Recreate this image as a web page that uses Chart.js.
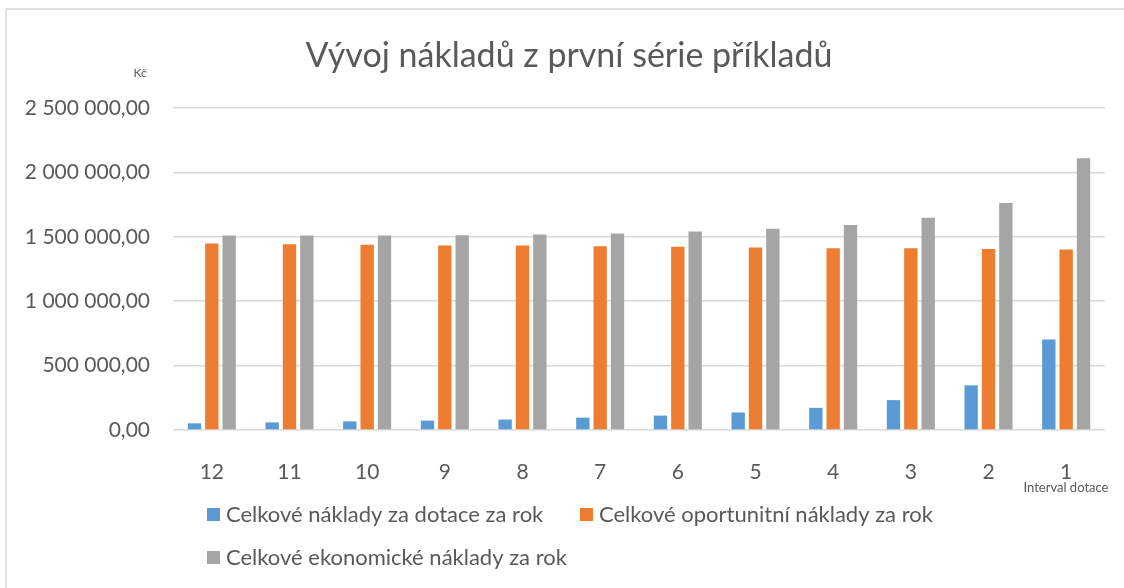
<!DOCTYPE html>
<html lang="cs">
<head>
<meta charset="utf-8">
<title>Vývoj nákladů z první série příkladů</title>
<script src="https://cdn.jsdelivr.net/npm/chart.js@4/dist/chart.umd.min.js"></script>
<style>
  html, body { margin: 0; padding: 0; background: #fff; }
  #wrap { width: 1124px; height: 588px; position: relative; }
</style>
</head>
<body>
<div id="wrap"><canvas id="chart" width="1124" height="588"></canvas></div>
<script>
// Data
const intervals = ['12', '11', '10', '9', '8', '7', '6', '5', '4', '3', '2', '1'];
const dotaceCosts = [52000, 59000, 67000, 73000, 81000, 96000, 112000, 136000, 172000, 232000, 347000, 703000];
const oportunitniCosts = [1448000, 1443000, 1438000, 1433000, 1432000, 1427000, 1422000, 1417000, 1412000, 1411000, 1406000, 1401000];
const ekonomickeCosts = [1510000, 1510000, 1510000, 1513000, 1518000, 1526000, 1541000, 1562000, 1591000, 1648000, 1763000, 2110000];
const seriesNames = [
    'Celkové náklady za dotace za rok',
    'Celkové oportunitní náklady za rok',
    'Celkové ekonomické náklady za rok'
];
const seriesColors = ['#5B9BD5', '#ED7D31', '#A5A5A5'];

const FONT = 'Lato, "Open Sans", sans-serif';
const TEXT = '#595959';

// 2 500 000,00
function formatKc(v) {
    const s = Math.round(v).toString().replace(/\B(?=(\d{3})+(?!\d))/g, ' ');
    return s + ',00';
}

// Titulek, popisky os, rámeček a legenda
const extrasPlugin = {
    id: 'extras',
    beforeDraw(chart) {
        const c = chart.ctx;
        c.save();
        c.strokeStyle = '#D9D9D9';
        c.lineWidth = 1.5;
        c.beginPath();
        c.moveTo(6, 588);
        c.lineTo(6, 9);
        c.lineTo(1124, 9);
        c.stroke();
        c.restore();
    },
    afterDraw(chart) {
        const c = chart.ctx;
        c.save();
        c.fillStyle = TEXT;
        c.textBaseline = 'middle';

        c.textAlign = 'center';
        c.font = '34px ' + FONT;
        c.fillText('Vývoj nákladů z první série příkladů', 569, 56);

        c.font = '12px ' + FONT;
        c.fillText('Kč', 140, 73);
        c.font = '13px ' + FONT;
        c.fillText('Interval dotace', 1066, 488);

        // legenda
        const items = [
            { x: 207, y: 515 },
            { x: 580, y: 515 },
            { x: 207, y: 558 }
        ];
        c.textAlign = 'left';
        c.font = '22px ' + FONT;
        chart.data.datasets.forEach((ds, i) => {
            const p = items[i];
            c.fillStyle = ds.backgroundColor;
            c.fillRect(p.x, p.y - 7, 13, 13);
            c.fillStyle = TEXT;
            c.fillText(ds.label, p.x + 19, p.y);
        });
        c.restore();
    }
};

const ctx = document.getElementById('chart').getContext('2d');
new Chart(ctx, {
    type: 'bar',
    data: {
        labels: intervals,
        datasets: [
            { label: seriesNames[0], data: dotaceCosts, backgroundColor: seriesColors[0] },
            { label: seriesNames[1], data: oportunitniCosts, backgroundColor: seriesColors[1] },
            { label: seriesNames[2], data: ekonomickeCosts, backgroundColor: seriesColors[2] }
        ]
    },
    options: {
        responsive: false,
        animation: false,
        layout: { padding: { top: 108, right: 19, bottom: 0, left: 0 } },
        datasets: {
            bar: { categoryPercentage: 0.67, barPercentage: 0.77 }
        },
        plugins: {
            legend: { display: false },
            title: { display: false },
            tooltip: { enabled: false }
        },
        scales: {
            x: {
                grid: { display: false },
                border: { display: false },
                ticks: {
                    color: TEXT,
                    font: { family: FONT, size: 21 },
                    padding: 22
                },
                afterFit(scale) { scale.height = 158; }
            },
            y: {
                min: 0,
                max: 2500000,
                grid: { color: '#D9D9D9', lineWidth: 1.5, drawTicks: false },
                border: { display: false },
                ticks: {
                    stepSize: 500000,
                    color: TEXT,
                    font: { family: FONT, size: 21 },
                    padding: 23,
                    callback: (v) => formatKc(v)
                },
                afterFit(scale) { scale.width = 173; }
            }
        }
    },
    plugins: [extrasPlugin]
});
</script>
</body>
</html>
